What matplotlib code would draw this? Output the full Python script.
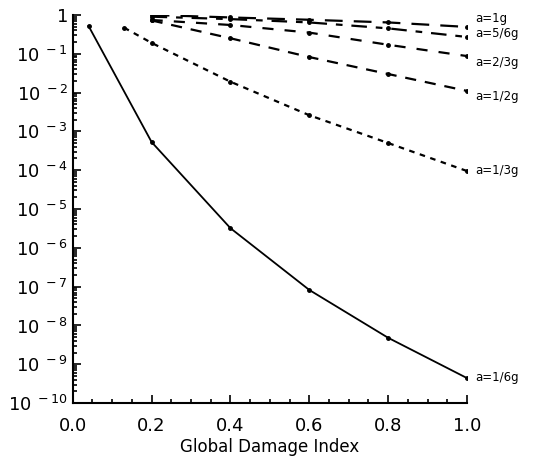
import matplotlib.pyplot as plt
import numpy as np
from matplotlib.ticker import FixedLocator, FuncFormatter, LogLocator, MultipleLocator

plt.rcParams['font.family'] = 'DejaVu Sans'

# damage index points for each curve
x_full = [0.2, 0.4, 0.6, 0.8, 1.0]
x_13 = [0.13, 0.2, 0.4, 0.6, 0.8, 1.0]
x_16 = [0.04, 0.2, 0.4, 0.6, 0.8, 1.0]

# exceedance probabilities
p_1g = [1.0, 0.86, 0.75, 0.64, 0.49]
p_56g = [0.9, 0.78, 0.64, 0.45, 0.27]
p_23g = [0.74, 0.55, 0.35, 0.17, 0.087]
p_12g = [0.72, 0.25, 0.082, 0.030, 0.011]
p_13g = [0.47, 0.19, 0.019, 2.6e-3, 5e-4, 9.5e-5]
p_16g = [0.52, 5.3e-4, 3.2e-6, 8.2e-8, 4.8e-9, 4.4e-10]

labels = ['a=1g', 'a=5/6g', 'a=2/3g', 'a=1/2g', 'a=1/3g', 'a=1/6g']
label_y = [0.8, 0.34, 0.061, 0.0077, 9.6e-5, 4.6e-10]

fig = plt.figure(figsize=(5.35, 4.66), dpi=100)
ax = fig.add_axes([0.136, 0.135, 0.737, 0.833])

mk = dict(marker='o', markersize=2.5, color='black')
ax.plot(x_full, p_1g, linestyle=(0, (8, 5)), linewidth=1.6, **mk)
ax.plot(x_full, p_56g, linestyle=(0, (7, 4, 3, 4)), linewidth=1.6, **mk)
ax.plot(x_full, p_23g, linestyle=(0, (5, 5)), linewidth=1.6, **mk)
ax.plot(x_full, p_12g, linestyle=(0, (5, 4)), linewidth=1.6, **mk)
ax.plot(x_13, p_13g, linestyle=(0, (2.5, 2.5)), linewidth=1.6, **mk)
ax.plot(x_16, p_16g, linestyle='-', linewidth=1.3, **mk)

for lab, ly in zip(labels, label_y):
    ax.annotate(lab, xy=(1.0, ly), xytext=(6, 0), textcoords='offset points',
                fontsize=8.5, va='center', ha='left', annotation_clip=False)

ax.set_yscale('log')
ax.set_ylim(1e-10, 1)
ax.set_xlim(0, 1.0)

def ylab(v, pos):
    e = int(round(np.log10(v)))
    if e == 0:
        return '1'
    return r'$10^{\ %d}$' % e

ax.yaxis.set_major_locator(FixedLocator([10.0 ** k for k in range(-10, 1)]))
ax.yaxis.set_major_formatter(FuncFormatter(ylab))
ax.yaxis.set_minor_locator(LogLocator(base=10, subs=np.arange(2, 10), numticks=20))
ax.xaxis.set_major_locator(MultipleLocator(0.2))
ax.xaxis.set_minor_locator(MultipleLocator(0.05))
ax.xaxis.set_major_formatter(FuncFormatter(lambda v, p: f'{v:.1f}'))

ax.tick_params(which='both', direction='in', width=1.2, labelsize=13)
ax.tick_params(which='major', length=6)
ax.tick_params(which='minor', length=3)
ax.tick_params(axis='x', pad=10)

for spine in ['top', 'right']:
    ax.spines[spine].set_visible(False)
for spine in ['left', 'bottom']:
    ax.spines[spine].set_linewidth(1.5)

ax.set_xlabel('Global Damage Index', fontsize=12, labelpad=2)

fig.savefig('out.png', dpi=100)
